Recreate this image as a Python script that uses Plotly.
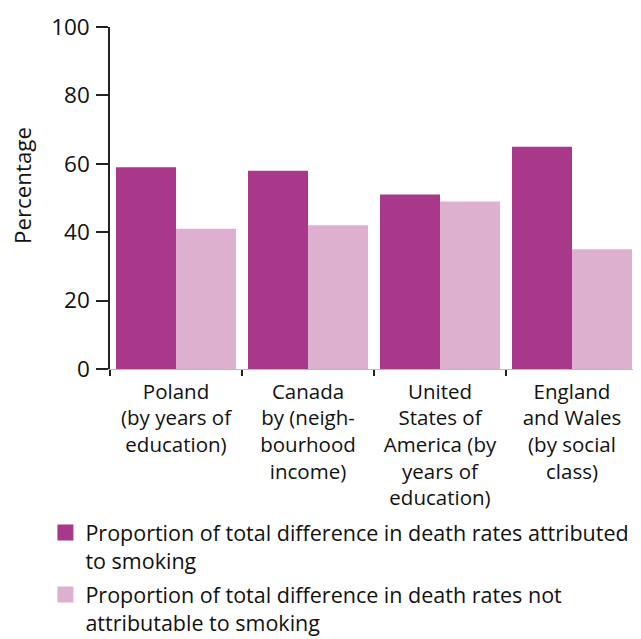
import plotly.graph_objects as go

categories = [
    "Poland<br>(by years of<br>education)",
    "Canada<br>by (neigh-<br>bourhood<br>income)",
    "United<br>States of<br>America (by<br>years of<br>education)",
    "England<br>and Wales<br>(by social<br>class)",
]
attributed = [59, 58, 51, 65]
not_attributed = [41, 42, 49, 35]
series_names = [
    "Proportion of total difference in death rates attributed<br>to smoking",
    "Proportion of total difference in death rates not<br>attributable to smoking",
]
y_ticks = [0, 20, 40, 60, 80, 100]
y_title = "Percentage"

DARK = "#A8388A"
LIGHT = "#DDB0D0"
FONT = "Open Sans"
TXT = "#111111"

fig = go.Figure()
fig.add_trace(go.Bar(x=categories, y=attributed, name=series_names[0],
                     marker=dict(color=DARK, line=dict(width=0)), showlegend=False))
fig.add_trace(go.Bar(x=categories, y=not_attributed, name=series_names[1],
                     marker=dict(color=LIGHT, line=dict(width=0)), showlegend=False))
# legend entries (same series, square swatches)
for i, (name, col) in enumerate(zip(series_names, [DARK, LIGHT])):
    fig.add_trace(go.Scatter(x=[None], y=[None], mode="markers", name=name,
                             legendgroup=f"g{i}",
                             marker=dict(symbol="square", size=22, color=col),
                             showlegend=True, hoverinfo="skip"))

# The page body adds an 8px offset; the figure is made a little taller than the
# window so the two-line legend entries fit without shrinking the plot area.
fig.update_layout(
    width=641, height=660,
    margin=dict(l=102, r=11, t=19, b=299),
    paper_bgcolor="white", plot_bgcolor="white",
    font=dict(family=FONT, size=21, color=TXT),
    barmode="group", bargap=12 / 132, bargroupgap=0,
    showlegend=True,
    legend=dict(
        x=-0.1223, xanchor="left", y=-0.4182, yanchor="top",
        font=dict(family=FONT, size=21.5, color=TXT),
        valign="top", tracegroupgap=3, itemwidth=30, itemsizing="trace",
        bgcolor="rgba(0,0,0,0)",
    ),
    annotations=[dict(
        text=y_title, textangle=-90, xref="paper", yref="paper",
        x=-0.1667, y=0.538, xanchor="center", yanchor="middle", showarrow=False,
        font=dict(family=FONT, size=22.3, color=TXT),
    )],
)
fig.update_xaxes(
    type="category", tickson="boundaries", ticks="outside", ticklen=6,
    tickcolor="#222", tickwidth=1.5, showline=True, linecolor="#bbbbbb",
    linewidth=1, showgrid=False, zeroline=False, automargin=False,
    ticklabelstandoff=4,
    tickfont=dict(family=FONT, size=20.5, color=TXT),
)
fig.update_yaxes(
    range=[0, 100], tickvals=y_ticks, ticks="outside", ticklen=12,
    tickcolor="#222", tickwidth=1.5, showline=True, linecolor="#222",
    linewidth=1.5, showgrid=False, zeroline=False, automargin=False,
    ticklabelstandoff=2,
    tickfont=dict(family=FONT, size=22.5, color=TXT),
)

fig.write_html("out.html")
